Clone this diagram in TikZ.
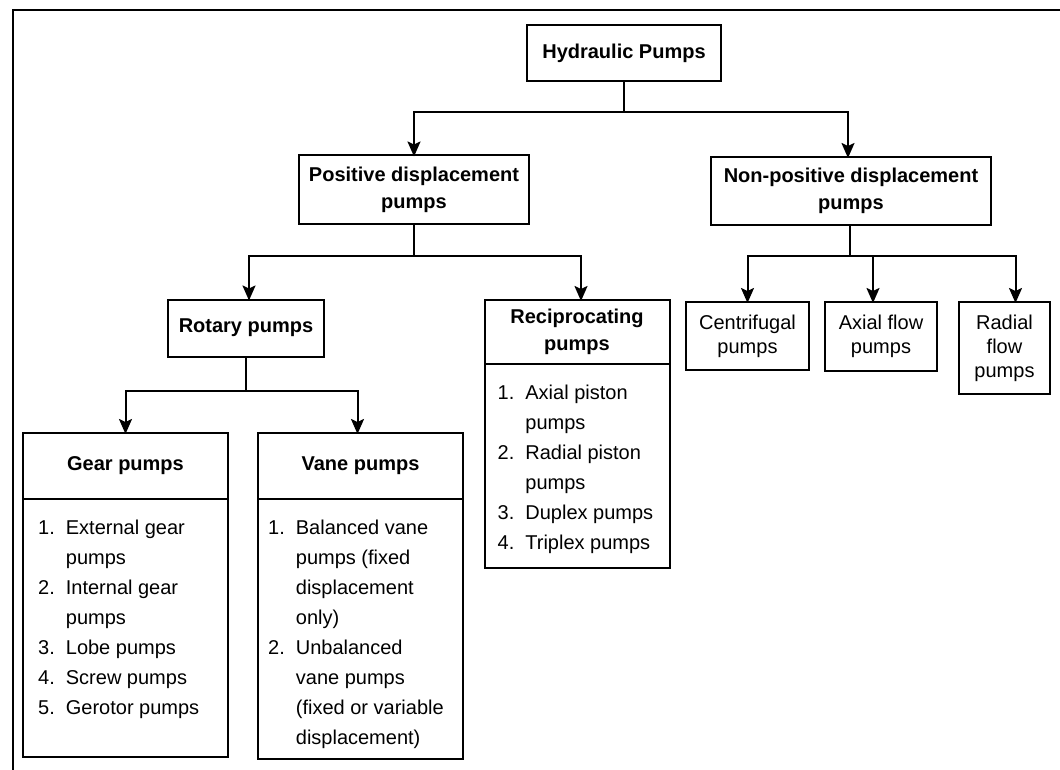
\documentclass[tikz,border=0pt]{standalone}
\usepackage{fontspec}
\setmainfont{Liberation Sans}
\usetikzlibrary{arrows.meta,positioning,calc}
\tikzset{
block/.style = {draw, fill=white, rectangle, line width=2pt, outer sep=0pt, align=center, inner sep=2pt, font=\bfseries\fontsize{20}{27}\selectfont},
leaf/.style  = {block, font=\fontsize{20}{24}\selectfont},
listbox/.style = {draw, rectangle, line width=2pt, outer sep=0pt, anchor=north, inner sep=0pt},
items/.style = {anchor=north west, inner sep=0pt, font=\fontsize{20}{30}\selectfont},
tmp/.style   = {coordinate},
line/.style  = {line width=2pt}
}
\newcommand{\pumplist}[1]{\begin{tabular}{@{}l@{\hspace{11pt}}l@{}}#1\end{tabular}}

\begin{document}
\begin{tikzpicture}[x=1pt, y=-1pt, >={Stealth[length=15pt,width=13pt,inset=3pt]}]
  \useasboundingbox (0,0) rectangle (1060,770);
  % frame
  \coordinate (framebl) at (13,770);
  \coordinate (frametl) at (13,10);
  \coordinate (frametr) at (1060,10);
  \draw [line width=2.5pt] (framebl) -- (frametl) -- (frametr);

  \node [block, minimum width=194pt, minimum height=56pt]  (hyd)      at (624,53)    {Hydraulic Pumps};
  \node [block, minimum width=230pt, minimum height=69pt]  (posd)     at (414,190)   {Positive displacement\\pumps};
  \node [block, minimum width=280pt, minimum height=68pt]  (nonposd)  at (851,191)   {Non-positive displacement\\pumps};
  \node [block, minimum width=156pt, minimum height=57pt]  (rotary)   at (246,328)   {Rotary pumps};
  \node [block, minimum width=185pt, minimum height=64pt]  (recip)    at (577,332)   {Reciprocating\\pumps};
  \node [leaf,  minimum width=123pt, minimum height=68pt]  (centri)   at (747.5,336) {Centrifugal\\pumps};
  \node [leaf,  minimum width=112pt, minimum height=69pt]  (axial)    at (881,336.5) {Axial flow\\pumps};
  \node [leaf,  minimum width=91pt,  minimum height=92pt]  (radial)   at (1004.5,348) {Radial\\flow\\pumps};
  \node [block, minimum width=205pt, minimum height=66pt]  (gear)     at (125.5,466) {Gear pumps};
  \node [block, minimum width=205pt, minimum height=66pt]  (vane)     at (360.5,466) {Vane pumps};

  \node [listbox, minimum width=185pt, minimum height=204pt] (reciplist) at (recip.south) {};
  \node [listbox, minimum width=205pt, minimum height=258pt] (gearlist)  at (gear.south)  {};
  \node [listbox, minimum width=205pt, minimum height=260pt] (vanelist)  at (vane.south)  {};

  \node [items] (recipitems) at ($(reciplist.north west)+(13,14)$) {\pumplist{
    1. & Axial piston\\ & pumps\\
    2. & Radial piston\\ & pumps\\
    3. & Duplex pumps\\
    4. & Triplex pumps}};
  \node [items] (gearitems) at ($(gearlist.north west)+(15,14)$) {\pumplist{
    1. & External gear\\ & pumps\\
    2. & Internal gear\\ & pumps\\
    3. & Lobe pumps\\
    4. & Screw pumps\\
    5. & Gerotor pumps}};
  \node [items] (vaneitems) at ($(vanelist.north west)+(10,14)$) {\pumplist{
    1. & Balanced vane\\ & pumps (fixed\\ & displacement\\ & only)\\
    2. & Unbalanced\\ & vane pumps\\ & (fixed or variable\\ & displacement)}};

  \node [tmp] (tmp1) at (624,112) {};
  \node [tmp] (tmp2) at (414,256) {};
  \node [tmp] (tmp3) at (246,391) {};
  \node [tmp] (tmp4) at (850,256) {};

  \draw [line] (hyd.south) -- (tmp1);
  \draw [line,->] (tmp1) -| ([yshift=-1pt]posd.north);
  \draw [line,->] (tmp1) -| ([xshift=-3pt,yshift=-1pt]nonposd.north);
  \draw [line] (posd.south) -- (tmp2);
  \draw [line,->] (tmp2) -| ([xshift=3pt,yshift=-1pt]rotary.north);
  \draw [line,->] (tmp2) -| ([xshift=4pt,yshift=-1pt]recip.north);
  \draw [line] (rotary.south) -- (tmp3);
  \draw [line,->] (tmp3) -| ([yshift=-1pt]gear.north);
  \draw [line,->] (tmp3) -| ([xshift=-3pt,yshift=-1pt]vane.north);
  \draw [line] ([xshift=-1pt]nonposd.south) -- (tmp4);
  \draw [line,->] (tmp4) -| ([yshift=-1pt]centri.north);
  \draw [line,->] (tmp4) -| ([xshift=-8pt,yshift=-1pt]axial.north);
  \draw [line,->] (tmp4) -| ([xshift=11pt,yshift=-1pt]radial.north);
\end{tikzpicture}
\end{document}
